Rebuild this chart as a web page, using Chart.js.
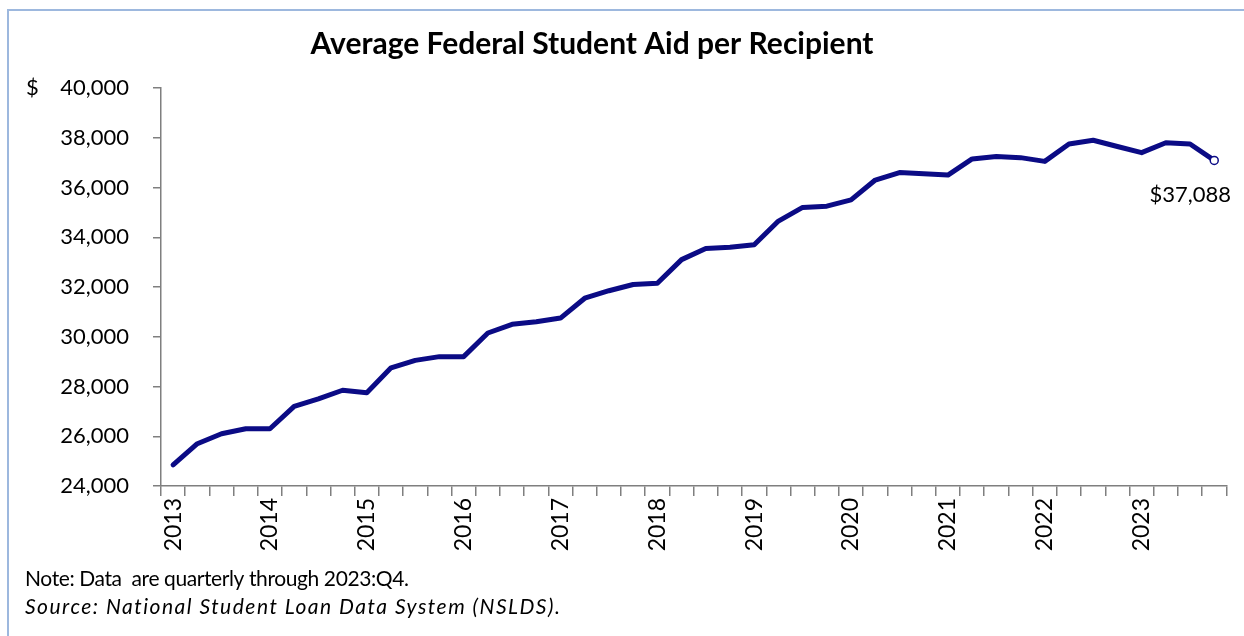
<!DOCTYPE html>
<html>
<head>
<meta charset="utf-8">
<script src="https://cdn.jsdelivr.net/npm/chart.js@4"></script>
<style>
  html, body { margin: 0; padding: 0; background: #fff; }
  #wrap { width: 1244px; height: 636px; position: relative; }
</style>
</head>
<body>
<div id="wrap"><canvas id="grafico" width="1244" height="636"></canvas></div>
<script>
// Dados (trimestrais, 2013:Q1 - 2023:Q4)
const anos = ['2013','2014','2015','2016','2017','2018','2019','2020','2021','2022','2023'];
const trimestres = [];
anos.forEach(a => { for (let q = 1; q <= 4; q++) trimestres.push(a + ':Q' + q); });

const ajudaMedia = [
  24850, 25700, 26100, 26300,
  26300, 27200, 27500, 27850,
  27750, 28750, 29050, 29200,
  29200, 30150, 30500, 30600,
  30750, 31550, 31850, 32100,
  32150, 33100, 33550, 33600,
  33700, 34650, 35200, 35250,
  35500, 36300, 36600, 36550,
  36500, 37150, 37250, 37200,
  37050, 37750, 37900, 37650,
  37400, 37800, 37750, 37088
];

const yTicks = [24000, 26000, 28000, 30000, 32000, 34000, 36000, 38000, 40000];

const titulo = 'Average Federal Student Aid per Recipient';
const nota = 'Note: Data  are quarterly through 2023:Q4.';
const fonte = 'Source: National Student Loan Data System (NSLDS).';

const FONTE = 'Lato, "Open Sans", sans-serif';
const AZUL = '#0b0b85';
const CINZA = '#7f7f7f';

// ==================== Plugin de textos ====================
const textos = {
  id: 'textos',
  afterDraw(chart) {
    const c = chart.ctx;
    const y = chart.scales.y;
    c.save();
    // moldura
    c.strokeStyle = '#9db8de';
    c.lineWidth = 2;
    c.beginPath();
    c.moveTo(8, 636); c.lineTo(8, 10); c.lineTo(1244, 10);
    c.stroke();

    c.fillStyle = '#000';
    c.textBaseline = 'middle';
    c.textAlign = 'center';
    c.font = 'bold 30px ' + FONTE;
    c.fillText(titulo, 592, 44);

    c.textAlign = 'left';
    c.font = '22px ' + FONTE;
    c.fillText('$', 26, y.getPixelForValue(40000));

    // rótulo do último ponto
    const meta = chart.getDatasetMeta(0);
    const ult = meta.data[meta.data.length - 1];
    c.textAlign = 'center';
    c.fillText('$' + ajudaMedia[ajudaMedia.length - 1].toLocaleString('en-US'), ult.x - 24, ult.y + 34);

    c.textAlign = 'left';
    c.font = '21px ' + FONTE;
    c.letterSpacing = '-0.4px';
    c.fillText(nota, 25, 579);
    c.font = 'italic 21px ' + FONTE;
    c.letterSpacing = '1.5px';
    c.fillText(fonte, 25, 607);
    c.restore();
  }
};

const ctx = document.getElementById('grafico').getContext('2d');
const n = ajudaMedia.length;

new Chart(ctx, {
  type: 'line',
  data: {
    labels: trimestres,
    datasets: [{
      data: ajudaMedia,
      borderColor: AZUL,
      borderWidth: 5,
      borderJoinStyle: 'round',
      borderCapStyle: 'round',
      tension: 0,
      fill: false,
      pointRadius: ajudaMedia.map((v, i) => i === n - 1 ? 4 : 0),
      pointBackgroundColor: '#fff',
      pointBorderColor: AZUL,
      pointBorderWidth: 1.5
    }]
  },
  options: {
    responsive: false,
    animation: false,
    layout: { padding: { left: 0, right: 14, top: 88, bottom: 0 } },
    plugins: {
      legend: { display: false },
      title: { display: false },
      tooltip: { enabled: false }
    },
    scales: {
      x: {
        type: 'category',
        offset: true,
        afterFit(s) { s.height = 150; },
        grid: {
          offset: true,
          drawOnChartArea: false,
          drawTicks: true,
          tickLength: 10,
          color: CINZA,
          lineWidth: 1.5
        },
        border: { color: CINZA, width: 1.5 },
        ticks: {
          autoSkip: false,
          maxRotation: 90,
          minRotation: 90,
          padding: 2,
          color: '#000',
          font: { family: FONTE, size: 23 },
          callback(val, i) {
            const t = trimestres[i];
            return t.endsWith('Q1') ? t.slice(0, 4) : '';
          }
        }
      },
      y: {
        min: 24000,
        max: 40000,
        afterFit(s) { s.width = 161; },
        afterBuildTicks(s) { s.ticks = yTicks.map(v => ({ value: v })); },
        grid: {
          drawOnChartArea: false,
          drawTicks: true,
          tickLength: 8,
          color: CINZA,
          lineWidth: 1.5
        },
        border: { color: CINZA, width: 1.5 },
        ticks: {
          padding: 24,
          color: '#000',
          font: { family: FONTE, size: 22 },
          callback: v => v.toLocaleString('en-US')
        }
      }
    }
  },
  plugins: [textos]
});
</script>
</body>
</html>
